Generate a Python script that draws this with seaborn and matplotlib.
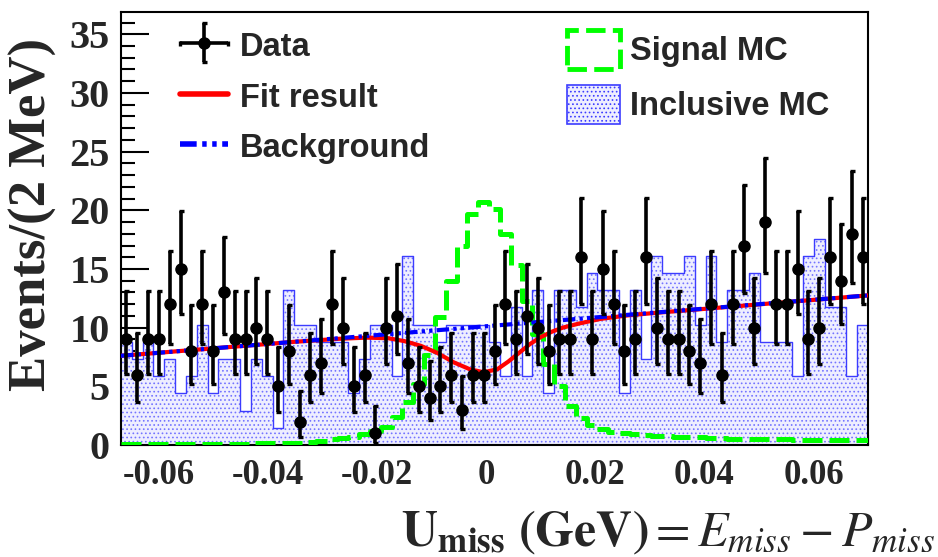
import numpy as np
import matplotlib
matplotlib.use("Agg")
import matplotlib.pyplot as plt
import seaborn as sns
from matplotlib.lines import Line2D
from matplotlib.patches import Patch
from matplotlib.legend_handler import HandlerErrorbar

# ---------------- data ----------------
x_low, x_high, n_bins = -0.067, 0.070, 69

data_counts = [9, 6, 9, 9, 12, 15, 8, 12, 8, 13, 9, 9, 10, 9, 5, 8, 2,
               6, 7, 12, 10, 5, 6, 1, 10, 11, 7, 5, 4, 5, 6, 3, 6,
               6, 8, 12, 9, 11, 10, 8, 9, 9, 16, 9, 15, 12, 8, 9, 16, 10,
               9, 9, 8, 7, 12, 6, 12, 17, 10, 19, 12, 12, 15, 9, 10, 16, 14, 18, 16]

incl_mc_counts = [6, 5, 6, 4, 5, 3, 4, 7, 3, 5, 5, 2, 5, 4, 1, 9, 7, 7, 6, 6, 6, 3, 5,
                  7, 7, 4, 11, 7, 7, 6, 7, 7, 7, 7, 6, 4, 8, 4, 9, 3, 9, 9, 8, 10, 9, 9,
                  3, 9, 5, 11, 10, 10, 11, 7, 11, 6, 9, 9, 10, 6, 6, 6, 4, 11, 12, 8, 8, 4, 7]
incl_mc_scale = 1.465

signal_mc = [0.05, 0.05, 0.05, 0.05, 0.05, 0.05, 0.1, 0.1, 0.1, 0.1, 0.1, 0.1,
             0.15, 0.15, 0.15, 0.15, 0.2, 0.25, 0.35, 0.5, 0.6, 0.7, 0.9, 1.2, 1.5,
             2.4, 3.7, 5.2, 7.7, 10.9, 14.0, 17.0, 19.7, 20.7, 20.1, 18.0, 15.3, 12.3,
             9.5, 6.9, 5.0, 3.3, 2.3, 1.7, 1.4, 1.1, 1.0, 0.9, 0.85, 0.8, 0.75, 0.7,
             0.7, 0.65, 0.6, 0.6, 0.55, 0.55, 0.5, 0.5, 0.5, 0.5, 0.45, 0.45, 0.45,
             0.4, 0.4, 0.4, 0.4]

fit_x = [-0.067, -0.050, -0.035, -0.027, -0.022, -0.018, -0.015, -0.012, -0.009,
         -0.006, -0.003, -0.0005, 0.002, 0.004, 0.006, 0.008, 0.010, 0.012, 0.014,
         0.017, 0.021, 0.026, 0.032, 0.040, 0.070]
fit_y = [7.6, 8.24, 8.8, 9.05, 9.15, 9.1, 8.85, 8.45, 7.85, 7.05, 6.45, 6.2, 6.45,
         7.1, 7.85, 8.6, 9.2, 9.65, 10.0, 10.35, 10.75, 11.05, 11.3, 11.6, 12.75]

bkg_x = [-0.067, 0.0, 0.070]
bkg_y = [7.6, 10.12, 12.75]

x_ticks = [-0.06, -0.04, -0.02, 0.0, 0.02, 0.04, 0.06]
x_tick_labels = ["-0.06", "-0.04", "-0.02", "0", "0.02", "0.04", "0.06"]
y_ticks = [0, 5, 10, 15, 20, 25, 30, 35]
y_tick_labels = ["0", "5", "10", "15", "20", "25", "30", "35"]

# ---------------- derived ----------------
edges = np.linspace(x_low, x_high, n_bins + 1).tolist()
centers = [0.5 * (a + b) for a, b in zip(edges[:-1], edges[1:])]
n = np.asarray(data_counts, dtype=float)
mc_vals = (np.asarray(incl_mc_counts, dtype=float) * incl_mc_scale).tolist()
# Poisson (Garwood-like) asymmetric errors
lo = n * (1 - 1 / (9 * n) - 1 / (3 * np.sqrt(n))) ** 3
hi = (n + 1) * (1 - 1 / (9 * (n + 1)) + 1 / (3 * np.sqrt(n + 1))) ** 3
err_lo = n - lo
err_hi = hi - n

# ---------------- style ----------------
sns.set_style("ticks")
plt.rcParams["font.family"] = ["Liberation Serif", "DejaVu Serif"]
plt.rcParams["mathtext.fontset"] = "stix"
plt.rcParams["hatch.linewidth"] = 0.7

fig = plt.figure(figsize=(9.38, 5.57), dpi=100)
ax = fig.add_axes([121 / 938, 1 - 445 / 557, (868 - 121) / 938, (445 - 12) / 557])

# inclusive MC (dotted fill + outline)
sns.histplot(x=centers, weights=mc_vals, bins=edges, element="step", fill=True,
             facecolor="#eeeeff", edgecolor="#7474ff", linewidth=0,
             hatch="....", alpha=1, ax=ax, zorder=1)
sns.histplot(x=centers, weights=mc_vals, bins=edges, element="step", fill=False,
             color="#3c3cff", linewidth=1.0, ax=ax, zorder=2)

# signal MC
sns.histplot(x=centers, weights=signal_mc, bins=edges, element="step", fill=False,
             color="#00ff00", linewidth=3.6, linestyle=(0, (4.0, 1.4)), ax=ax, zorder=3)

# fit and background
sns.lineplot(x=fit_x, y=fit_y, color="#ff0000", linewidth=3.0, ax=ax, zorder=4,
             sort=True, estimator=None)
sns.lineplot(x=bkg_x, y=bkg_y, color="#0000ff", linewidth=3.0, ax=ax, zorder=5,
             linestyle=(0, (3.0, 1.0, 0.8, 1.0, 0.8, 1.0)), estimator=None)

# data
eb = ax.errorbar(centers, n, yerr=[err_lo, err_hi], xerr=np.zeros_like(n), fmt="o",
                 color="black", ms=8, elinewidth=2.6, capsize=1.8, capthick=2.4,
                 zorder=6)

# axes
ax.set_xlim(x_low, x_high)
ax.set_ylim(0, 36.9)
ax.set_xticks(x_ticks)
ax.set_xticklabels(x_tick_labels)
ax.set_yticks(y_ticks)
ax.set_yticklabels(y_tick_labels)
ax.xaxis.set_minor_locator(matplotlib.ticker.MultipleLocator(0.005))
ax.yaxis.set_minor_locator(matplotlib.ticker.MultipleLocator(1))
ax.tick_params(axis="both", which="both", direction="in", top=False, right=False,
               width=1.5, color="black")
ax.tick_params(axis="y", which="major", length=20, pad=8)
ax.tick_params(axis="y", which="minor", length=10)
ax.tick_params(axis="x", which="major", length=14, pad=10)
ax.tick_params(axis="x", which="minor", length=7)
for lab in ax.get_xticklabels():
    lab.set_fontsize(25)
    lab.set_fontweight("bold")
for lab in ax.get_yticklabels():
    lab.set_fontsize(29)
    lab.set_fontweight("bold")
for sp in ax.spines.values():
    sp.set_linewidth(1.5)
    sp.set_color("black")
    sp.set_visible(True)
ax.set_xlabel("")
ax.set_ylabel("")

fig.text(0.010, 1 - 214 / 557, "Events/(2 MeV)", rotation=90,
         ha="left", va="center", fontsize=38, fontweight="bold")
fig.text(935 / 938, 1 - 546 / 557,
         r"$\mathbf{U}_{\mathbf{miss}}\ \mathbf{(GeV)} = E_{miss} - P_{miss}$",
         ha="right", va="baseline", fontsize=36)

# legends
leg_font = {"family": ["Liberation Sans", "DejaVu Sans"], "weight": "bold", "size": 23.5}
h_fit = Line2D([], [], color="#ff0000", linewidth=4)
h_bkg = Line2D([], [], color="#0000ff", linewidth=4,
               linestyle=(0, (3.0, 1.0, 0.8, 1.0, 0.8, 1.0)))
leg1 = ax.legend([eb, h_fit, h_bkg], ["Data", "Fit result", "Background"],
                 loc="upper left", bbox_to_anchor=(180 / 938, 1 - 30 / 557),
                 bbox_transform=fig.transFigure, frameon=False, prop=leg_font,
                 borderpad=0, borderaxespad=0, handlelength=1.47, handleheight=1.0,
                 handletextpad=0.37, labelspacing=0.55, numpoints=1,
                 handler_map={type(eb): HandlerErrorbar(xerr_size=0.75, yerr_size=0.6)})
ax.add_artist(leg1)

h_sig = Patch(facecolor="none", edgecolor="#00ff00", linewidth=3.5, linestyle=(0, (4, 1.5)))
h_inc = Patch(facecolor="#eeeeff", edgecolor="#3c3cff", linewidth=1.2, hatch="....")
leg2 = ax.legend([h_sig, h_inc], ["Signal MC", "Inclusive MC"],
                 loc="upper left", bbox_to_anchor=(567 / 938, 1 - 30 / 557),
                 bbox_transform=fig.transFigure, frameon=False, prop=leg_font,
                 borderpad=0, borderaxespad=0, handlelength=1.62, handleheight=1.45,
                 handletextpad=0.3, labelspacing=0.5)

fig.savefig("out.png", dpi=100, facecolor="white")
